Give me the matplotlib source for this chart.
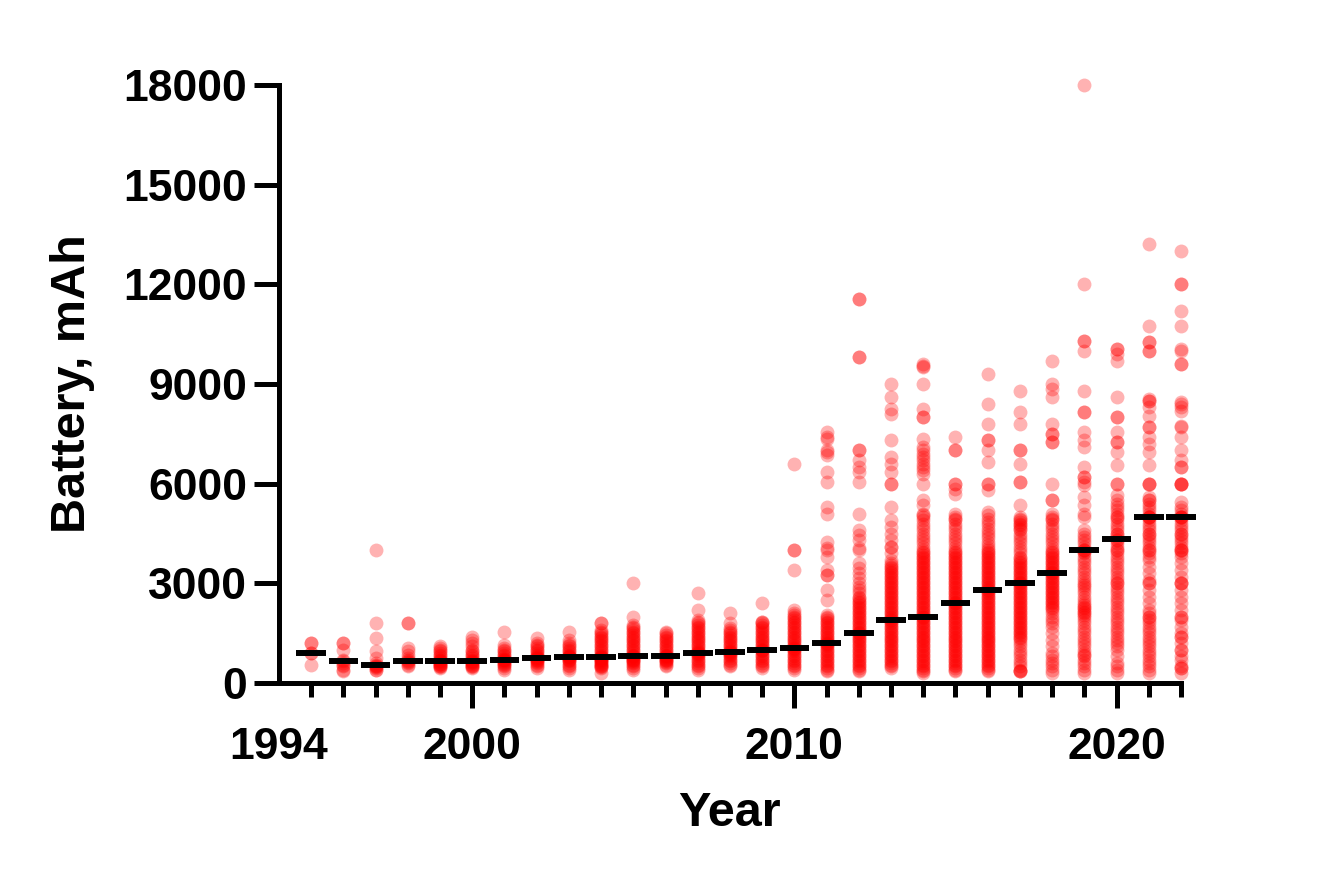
import matplotlib
matplotlib.use("Agg")
import matplotlib.pyplot as plt
import numpy as np

# ---------------- data (mAh per phone model, by release year) ----------------
years = [1995, 1996, 1997, 1998, 1999, 2000, 2001, 2002, 2003, 2004, 2005, 2006, 2007, 2008,
         2009, 2010, 2011, 2012, 2013, 2014, 2015, 2016, 2017, 2018, 2019, 2020, 2021, 2022]

medians = [900, 650, 540, 650, 650, 650, 700, 750, 780, 780, 800, 800, 900, 920,
           1000, 1050, 1200, 1500, 1900, 2000, 2400, 2800, 3000, 3300, 4000, 4320, 5000, 5000]

y1995 = [1200, 1200, 900, 900, 550]
y1996 = [1200, 1200, 1000, 700, 650, 600, 550, 500, 400, 350]
y1997 = [4000, 1800, 1350, 950, 750, 600, 550, 520, 500, 480, 450, 400, 380]
y1998 = [1800, 1800, 1050, 950, 850, 750, 700, 650, 620, 600, 550, 500]
y1999 = [1100, 1050, 1000, 950, 900, 850, 800, 750, 700, 680, 650, 650, 620, 600, 580, 560, 540, 520, 500, 480, 460]
y2000 = [1400, 1300, 1200, 1100, 1000, 950, 900, 850, 800, 750, 700, 650, 650, 640, 620, 600, 580, 550, 520, 500, 480, 460]
y2001 = [1550, 1130, 1050, 1000, 950, 900, 850, 800, 750, 720, 700, 700, 680, 650, 620, 600, 580, 550, 500, 450, 400]
y2002 = [1350, 1200, 1150, 1100, 1050, 1000, 950, 900, 850, 800, 780, 750, 750, 740, 720, 700, 680, 650, 620, 600, 550, 500, 450]
y2003 = [1550, 1300, 1200, 1150, 1100, 1050, 1000, 950, 900, 850, 820, 800, 780, 780, 770, 750, 720, 700, 680, 650, 600, 550, 500, 450, 400]
y2004 = [1800, 1800, 1600, 1550, 1500, 1450, 1400, 1350, 1300, 1250, 1200, 1150, 1100, 1050, 1000, 950, 900, 850, 800, 780, 780,
         770, 760, 750, 720, 700, 680, 650, 620, 600, 580, 550, 520, 500, 480, 450, 300]
y2005 = [3000, 2000, 1750, 1700, 1650, 1600, 1550, 1500, 1450, 1400, 1350, 1300, 1250, 1200, 1150, 1100, 1050, 1000, 950, 900,
         850, 820, 800, 800, 780, 750, 720, 700, 680, 650, 620, 600, 550, 500, 450, 400]
y2006 = [1550, 1500, 1450, 1400, 1350, 1300, 1250, 1200, 1150, 1100, 1050, 1000, 950, 900, 850, 820, 800, 800, 780, 750, 720,
         700, 680, 650, 620, 600, 550, 500]
y2007 = [2700, 2200, 1900, 1850, 1800, 1750, 1700, 1650, 1600, 1550, 1500, 1450, 1400, 1350, 1300, 1250, 1200, 1150, 1100, 1050,
         1000, 950, 920, 900, 900, 880, 850, 800, 750, 700, 650, 600, 550, 500, 450, 400]
y2008 = [2100, 1800, 1650, 1600, 1550, 1500, 1450, 1400, 1350, 1300, 1250, 1200, 1150, 1100, 1050, 1000, 950, 920, 920, 900,
         880, 850, 800, 750, 700, 650, 600, 550, 500]
y2009 = [2400, 1850, 1850, 1800, 1750, 1700, 1650, 1600, 1550, 1500, 1450, 1400, 1350, 1300, 1250, 1200, 1150, 1100, 1050, 1000,
         1000, 980, 950, 900, 850, 800, 750, 700, 650, 600, 550, 500, 450]
y2010 = [6600, 4000, 4000, 3400, 2200, 2100, 2050, 2000, 1950, 1900, 1850, 1800, 1750, 1700, 1650, 1600, 1550, 1500, 1450, 1400,
         1350, 1300, 1250, 1200, 1150, 1100, 1050, 1050, 1020, 1000, 950, 900, 850, 800, 750, 700, 650, 600, 550, 500, 450, 400]
y2011 = [7550, 7400, 7350, 7000, 6950, 6850, 6350, 6050, 5300, 5100, 4250, 4050, 4000, 3800, 3400, 3250, 3250, 2800, 2500, 2050,
         2000, 1950, 1900, 1850, 1800, 1750, 1700, 1650, 1600, 1550, 1500, 1450, 1400, 1350, 1300, 1250, 1200, 1200, 1180, 1150,
         1100, 1050, 1000, 950, 900, 850, 800, 750, 700, 650, 600, 550, 500, 450, 400, 350]
y2012 = [11550, 11550, 9800, 9800, 7000, 7000, 6700, 6500, 6350, 6050, 5100, 4600, 4450, 4300, 4050, 4000, 3600, 3450, 3300, 3150,
         3000, 2900, 2800, 2700, 2600, 2550, 2500, 2450, 2400, 2350, 2300, 2250, 2200, 2150, 2100, 2050, 2000, 1950, 1900, 1850,
         1800, 1750, 1700, 1650, 1600, 1550, 1500, 1500, 1450, 1400, 1350, 1300, 1250, 1200, 1150, 1100, 1050, 1000, 950, 900,
         850, 800, 750, 700, 650, 600, 550, 500, 450, 400, 350]
y2013 = [9000, 8600, 8250, 8100, 7300, 6800, 6600, 6350, 6000, 6000, 5300, 4900, 4700, 4500, 4300, 4100, 4100, 3900, 3700, 3600,
         3550, 3500, 3450, 3400, 3350, 3300, 3250, 3200, 3150, 3100, 3050, 3000, 2950, 2900, 2850, 2800, 2750, 2700, 2650, 2600,
         2550, 2500, 2450, 2400, 2350, 2300, 2250, 2200, 2150, 2100, 2050, 2000, 1950, 1900, 1900, 1850, 1800, 1750, 1700, 1650,
         1600, 1550, 1500, 1450, 1400, 1350, 1300, 1250, 1200, 1150, 1100, 1050, 1000, 950, 900, 850, 800, 750, 700, 650,
         600, 550, 500, 450]
y2014 = [9600, 9550, 9500, 9000, 8250, 8000, 8000, 7350, 7100, 7000, 6900, 6800, 6700, 6600, 6500, 6400, 6300, 6000, 5500, 5350,
         5100, 5050, 5000, 4900, 4800, 4700, 4600, 4500, 4400, 4300, 4200, 4100, 4000, 3950, 3900, 3850, 3800, 3750, 3700, 3650,
         3600, 3550, 3500, 3450, 3400, 3350, 3300, 3250, 3200, 3150, 3100, 3050, 3000, 2950, 2900, 2850, 2800, 2750, 2700, 2650,
         2600, 2550, 2500, 2450, 2400, 2350, 2300, 2250, 2200, 2150, 2100, 2050, 2000, 2000, 1950, 1900, 1850, 1800, 1750, 1700,
         1650, 1600, 1550, 1500, 1450, 1400, 1350, 1300, 1250, 1200, 1150, 1100, 1050, 1000, 950, 900, 850, 800, 750, 700,
         650, 600, 550, 500, 450, 400, 350, 300]
y2015 = [7400, 7000, 7000, 6000, 6000, 5850, 5700, 5100, 5000, 4950, 4900, 4800, 4700, 4600, 4500, 4400, 4300, 4200, 4100, 4000,
         3950, 3900, 3850, 3800, 3750, 3700, 3650, 3600, 3550, 3500, 3450, 3400, 3350, 3300, 3250, 3200, 3150, 3100, 3050, 3000,
         2950, 2900, 2850, 2800, 2750, 2700, 2650, 2600, 2550, 2500, 2450, 2400, 2400, 2350, 2300, 2250, 2200, 2150, 2100, 2050,
         2000, 1950, 1900, 1850, 1800, 1750, 1700, 1650, 1600, 1550, 1500, 1450, 1400, 1350, 1300, 1250, 1200, 1150, 1100, 1050,
         1000, 950, 900, 850, 800, 750, 700, 650, 600, 550, 500, 450, 400, 350]
y2016 = [9300, 8400, 7800, 7300, 7300, 7000, 6650, 6000, 6000, 5800, 5150, 5050, 4950, 4850, 4750, 4650, 4550, 4450, 4350, 4250,
         4150, 4050, 4000, 3950, 3900, 3850, 3800, 3750, 3700, 3650, 3600, 3550, 3500, 3450, 3400, 3350, 3300, 3250, 3200, 3150,
         3100, 3050, 3000, 2950, 2900, 2850, 2800, 2800, 2750, 2700, 2650, 2600, 2550, 2500, 2450, 2400, 2350, 2300, 2250, 2200,
         2150, 2100, 2050, 2000, 1950, 1900, 1850, 1800, 1750, 1700, 1650, 1600, 1550, 1500, 1450, 1400, 1350, 1300, 1250, 1200,
         1150, 1100, 1050, 1000, 950, 900, 850, 800, 750, 700, 650, 600, 550, 500, 450, 400, 350]
y2017 = [8800, 8150, 7800, 7000, 7000, 6600, 6050, 6050, 5350, 5000, 4950, 4900, 4850, 4800, 4750, 4700, 4650, 4600, 4500, 4400,
         4300, 4200, 4100, 4000, 3900, 3800, 3750, 3700, 3650, 3600, 3550, 3500, 3450, 3400, 3350, 3300, 3250, 3200, 3150, 3100,
         3050, 3000, 3000, 2950, 2900, 2850, 2800, 2750, 2700, 2650, 2600, 2550, 2500, 2450, 2400, 2350, 2300, 2250, 2200, 2150,
         2100, 2050, 2000, 1950, 1900, 1850, 1800, 1750, 1700, 1650, 1600, 1550, 1500, 1450, 1400, 1350, 1300, 1200, 1100, 1000,
         900, 800, 700, 600, 500, 400, 350, 350, 350]
y2018 = [9700, 9000, 8850, 8600, 7800, 7500, 7500, 7250, 7250, 6000, 5500, 5500, 5100, 5000, 4950, 4900, 4800, 4700, 4600, 4500,
         4400, 4300, 4200, 4100, 4000, 3950, 3900, 3850, 3800, 3750, 3700, 3650, 3600, 3550, 3500, 3450, 3400, 3350, 3300, 3300,
         3250, 3200, 3150, 3100, 3050, 3000, 2950, 2900, 2850, 2800, 2750, 2700, 2650, 2600, 2550, 2500, 2450, 2400, 2350, 2300,
         2250, 2200, 2100, 2000, 1900, 1800, 1700, 1500, 1300, 1100, 900, 800, 700, 600, 500, 400, 300]
y2019 = [18000, 12000, 10300, 10300, 10000, 8800, 8150, 8150, 7550, 7300, 7100, 6500, 6200, 6200, 6050, 5950, 5600, 5350, 5100, 5000,
         4600, 4500, 4400, 4300, 4200, 4100, 4000, 4000, 4000, 3950, 3900, 3800, 3700, 3600, 3500, 3400, 3300, 3200, 3100, 3000,
         2950, 2900, 2800, 2700, 2600, 2500, 2400, 2350, 2300, 2250, 2200, 2150, 2100, 2050, 2000, 1900, 1800, 1700, 1600, 1500,
         1400, 1300, 1200, 1100, 1000, 900, 850, 800, 700, 600, 500, 400, 300]
y2020 = [10050, 10050, 9900, 9700, 8600, 8000, 8000, 7550, 7250, 7250, 6950, 6550, 6000, 6000, 5650, 5500, 5400, 5300, 5200, 5100,
         5000, 5000, 4900, 4800, 4700, 4600, 4500, 4500, 4400, 4300, 4300, 4200, 4100, 4000, 4000, 3900, 3800, 3700, 3600, 3500,
         3400, 3300, 3200, 3100, 3000, 3000, 2900, 2800, 2700, 2600, 2500, 2400, 2300, 2200, 2100, 2000, 1900, 1800, 1700, 1600,
         1500, 1400, 1300, 1200, 1100, 1000, 800, 600, 500, 400, 300]
y2021 = [13200, 10750, 10250, 10250, 10000, 10000, 8550, 8500, 8500, 8300, 8050, 7700, 7700, 7400, 7200, 6950, 6550, 6000, 6000, 6000,
         5600, 5500, 5500, 5400, 5300, 5200, 5100, 5000, 5000, 5000, 5000, 4900, 4800, 4700, 4600, 4500, 4500, 4400, 4300, 4200,
         4100, 4000, 4000, 3900, 3800, 3700, 3500, 3300, 3100, 3000, 3000, 2800, 2600, 2400, 2200, 2100, 2000, 2000, 1900, 1800,
         1700, 1600, 1500, 1400, 1300, 1200, 1100, 1000, 900, 800, 700, 600, 500, 400, 300]
y2022 = [13000, 12000, 12000, 11200, 10750, 10050, 10000, 9600, 9600, 8450, 8400, 8300, 8200, 7750, 7700, 7400, 7000, 6700, 6500, 6500,
         6000, 6000, 6000, 6000, 5450, 5300, 5200, 5100, 5000, 5000, 5000, 5000, 4900, 4800, 4700, 4600, 4500, 4500, 4400, 4300,
         4200, 4100, 4000, 4000, 4000, 3900, 3800, 3600, 3400, 3200, 3000, 3000, 3000, 2800, 2600, 2400, 2200, 2000, 2000, 1900,
         1700, 1500, 1400, 1400, 1200, 1000, 1000, 800, 700, 500, 450, 450, 300]

values_by_year = [y1995, y1996, y1997, y1998, y1999, y2000, y2001, y2002, y2003, y2004, y2005, y2006, y2007, y2008,
                  y2009, y2010, y2011, y2012, y2013, y2014, y2015, y2016, y2017, y2018, y2019, y2020, y2021, y2022]

ytick_vals = [0, 3000, 6000, 9000, 12000, 15000, 18000]
xtick_major = [1994, 2000, 2010, 2020]
xtick_minor = [y for y in years if y not in (2000, 2010, 2020)]

# ---------------- figure ----------------
plt.rcParams['font.family'] = ['Liberation Sans', 'DejaVu Sans']
plt.rcParams['font.weight'] = 'bold'
plt.rcParams['axes.labelweight'] = 'bold'

fig = plt.figure(figsize=(13.22, 8.86), dpi=100)
ax = fig.add_axes([0.2110, 0.2291, 0.6823, 0.6750])

xs = np.concatenate([[yr] * len(v) for yr, v in zip(years, values_by_year)])
ys = np.concatenate([np.asarray(v, dtype=float) for v in values_by_year])
ax.scatter(xs, ys, s=100, color=(1, 0, 0), alpha=0.3, linewidths=0, zorder=2, clip_on=False)

yrs = np.asarray(years, dtype=float)
ax.hlines(medians, yrs - 0.46, yrs + 0.46, colors='black', linewidth=4.3, zorder=3,
          clip_on=False, capstyle='butt')

ax.set_xlim(1994, 2022)
ax.set_ylim(0, 18000)

for side in ('top', 'right'):
    ax.spines[side].set_visible(False)
for side in ('left', 'bottom'):
    ax.spines[side].set_linewidth(3.6)
    ax.spines[side].set_capstyle('projecting')

ax.set_yticks(ytick_vals)
ax.set_yticklabels([str(v) for v in ytick_vals])
ax.set_xticks(xtick_major)
ax.set_xticklabels([str(v) for v in xtick_major])
ax.set_xticks(xtick_minor, minor=True)
ax.xaxis.get_major_ticks()[0].tick1line.set_visible(False)

ax.tick_params(axis='y', which='major', length=18, width=3.6, labelsize=32, pad=5)
ax.tick_params(axis='x', which='major', length=18, width=3.6, labelsize=32, pad=14)
ax.tick_params(axis='x', which='minor', length=10, width=3.6)

ax.set_xlabel('Year', fontsize=35, va='center')
ax.xaxis.set_label_coords(0.5, -0.2174)
ax.set_ylabel('Battery, mAh', fontsize=35, va='center')
ax.yaxis.set_label_coords(-0.229, 0.5)

fig.savefig('out.png', dpi=100, facecolor='white')
